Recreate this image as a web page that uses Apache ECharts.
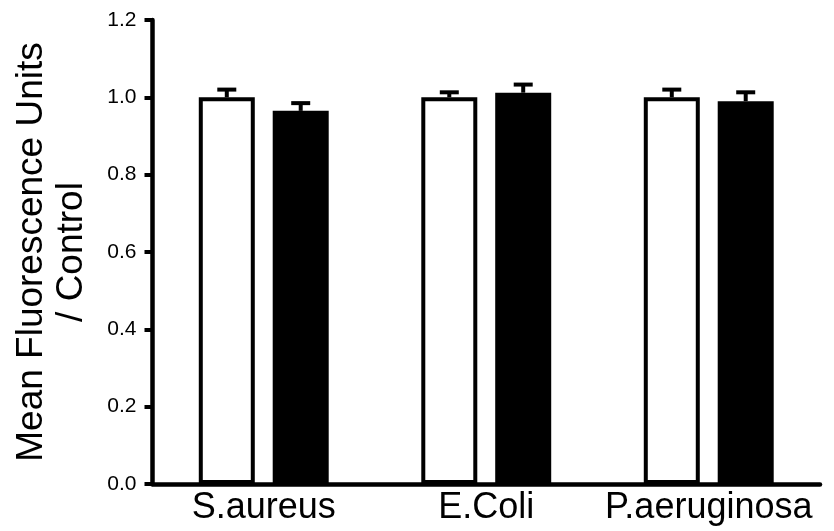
<!DOCTYPE html>
<html>
<head>
<meta charset="utf-8">
<script src="https://cdn.jsdelivr.net/npm/echarts@6/dist/echarts.min.js"></script>
<style>html,body{margin:0;padding:0;background:#fff}#c{width:834px;height:531px}</style>
</head>
<body>
<div id="c"></div>
<script>
var categories = ['S.aureus', 'E.Coli', 'P.aeruginosa'];
var controlValues = [1.0, 1.0, 1.0];
var controlErrors = [0.02, 0.013, 0.02];
var treatedValues = [0.965, 1.012, 0.99];
var treatedErrors = [0.02, 0.021, 0.023];
var yTicks = [0, 0.2, 0.4, 0.6, 0.8, 1.0, 1.2];

var BAR_W = 56, GAP = 0.32;
var OFFSET = (BAR_W + GAP * BAR_W) / 2;
var FONT = '"Liberation Sans", Arial, sans-serif';

function errSeries(vals, errs, dir) {
  return {
    type: 'custom',
    z: 5,
    data: vals.map(function (v, i) { return [i, v, errs[i]]; }),
    renderItem: function (params, api) {
      var i = api.value(0), v = api.value(1), e = api.value(2);
      var p0 = api.coord([i, v]);
      var p1 = api.coord([i, v + e]);
      var x = p0[0] + dir * OFFSET;
      var style = { stroke: '#000', lineWidth: 4 };
      return {
        type: 'group',
        children: [
          { type: 'line', shape: { x1: x, y1: p0[1], x2: x, y2: p1[1] }, style: style },
          { type: 'line', shape: { x1: x - 9.5, y1: p1[1], x2: x + 9.5, y2: p1[1] }, style: style }
        ]
      };
    }
  };
}

var chart = echarts.init(document.getElementById('c'), null, { renderer: 'canvas' });
chart.setOption({
  animation: false,
  backgroundColor: '#fff',
  grid: { left: 152.5, right: 14, top: 20, bottom: 47 },
  xAxis: {
    type: 'category',
    data: categories,
    axisLine: { lineStyle: { color: '#000', width: 4.5 } },
    axisTick: { show: false },
    axisLabel: { color: '#000', fontSize: 36, fontFamily: FONT, margin: 6, interval: 0 }
  },
  yAxis: {
    type: 'value',
    min: yTicks[0], max: yTicks[yTicks.length - 1], interval: 0.2,
    axisLine: { show: true, lineStyle: { color: '#000', width: 4.5 } },
    axisTick: { show: true, length: 8, lineStyle: { color: '#000', width: 4 } },
    splitLine: { show: false },
    axisLabel: { color: '#000', fontSize: 21, fontFamily: FONT, margin: 16,
      formatter: function (v) { return v.toFixed(1); } },
    name: 'Mean Fluorescence Units\n/ Control',
    nameLocation: 'middle',
    nameRotate: 90,
    nameGap: 61,
    nameTextStyle: { color: '#000', fontSize: 37, fontFamily: FONT, lineHeight: 40 }
  },
  series: [
    {
      type: 'bar', data: controlValues, barWidth: BAR_W, barGap: (GAP * 100) + '%',
      itemStyle: { color: '#fff', borderColor: '#000', borderWidth: 4 }
    },
    {
      type: 'bar', data: treatedValues, barWidth: BAR_W,
      itemStyle: { color: '#000', borderColor: '#000', borderWidth: 4 }
    },
    errSeries(controlValues, controlErrors, -1),
    errSeries(treatedValues, treatedErrors, 1)
  ]
});
</script>
</body>
</html>
